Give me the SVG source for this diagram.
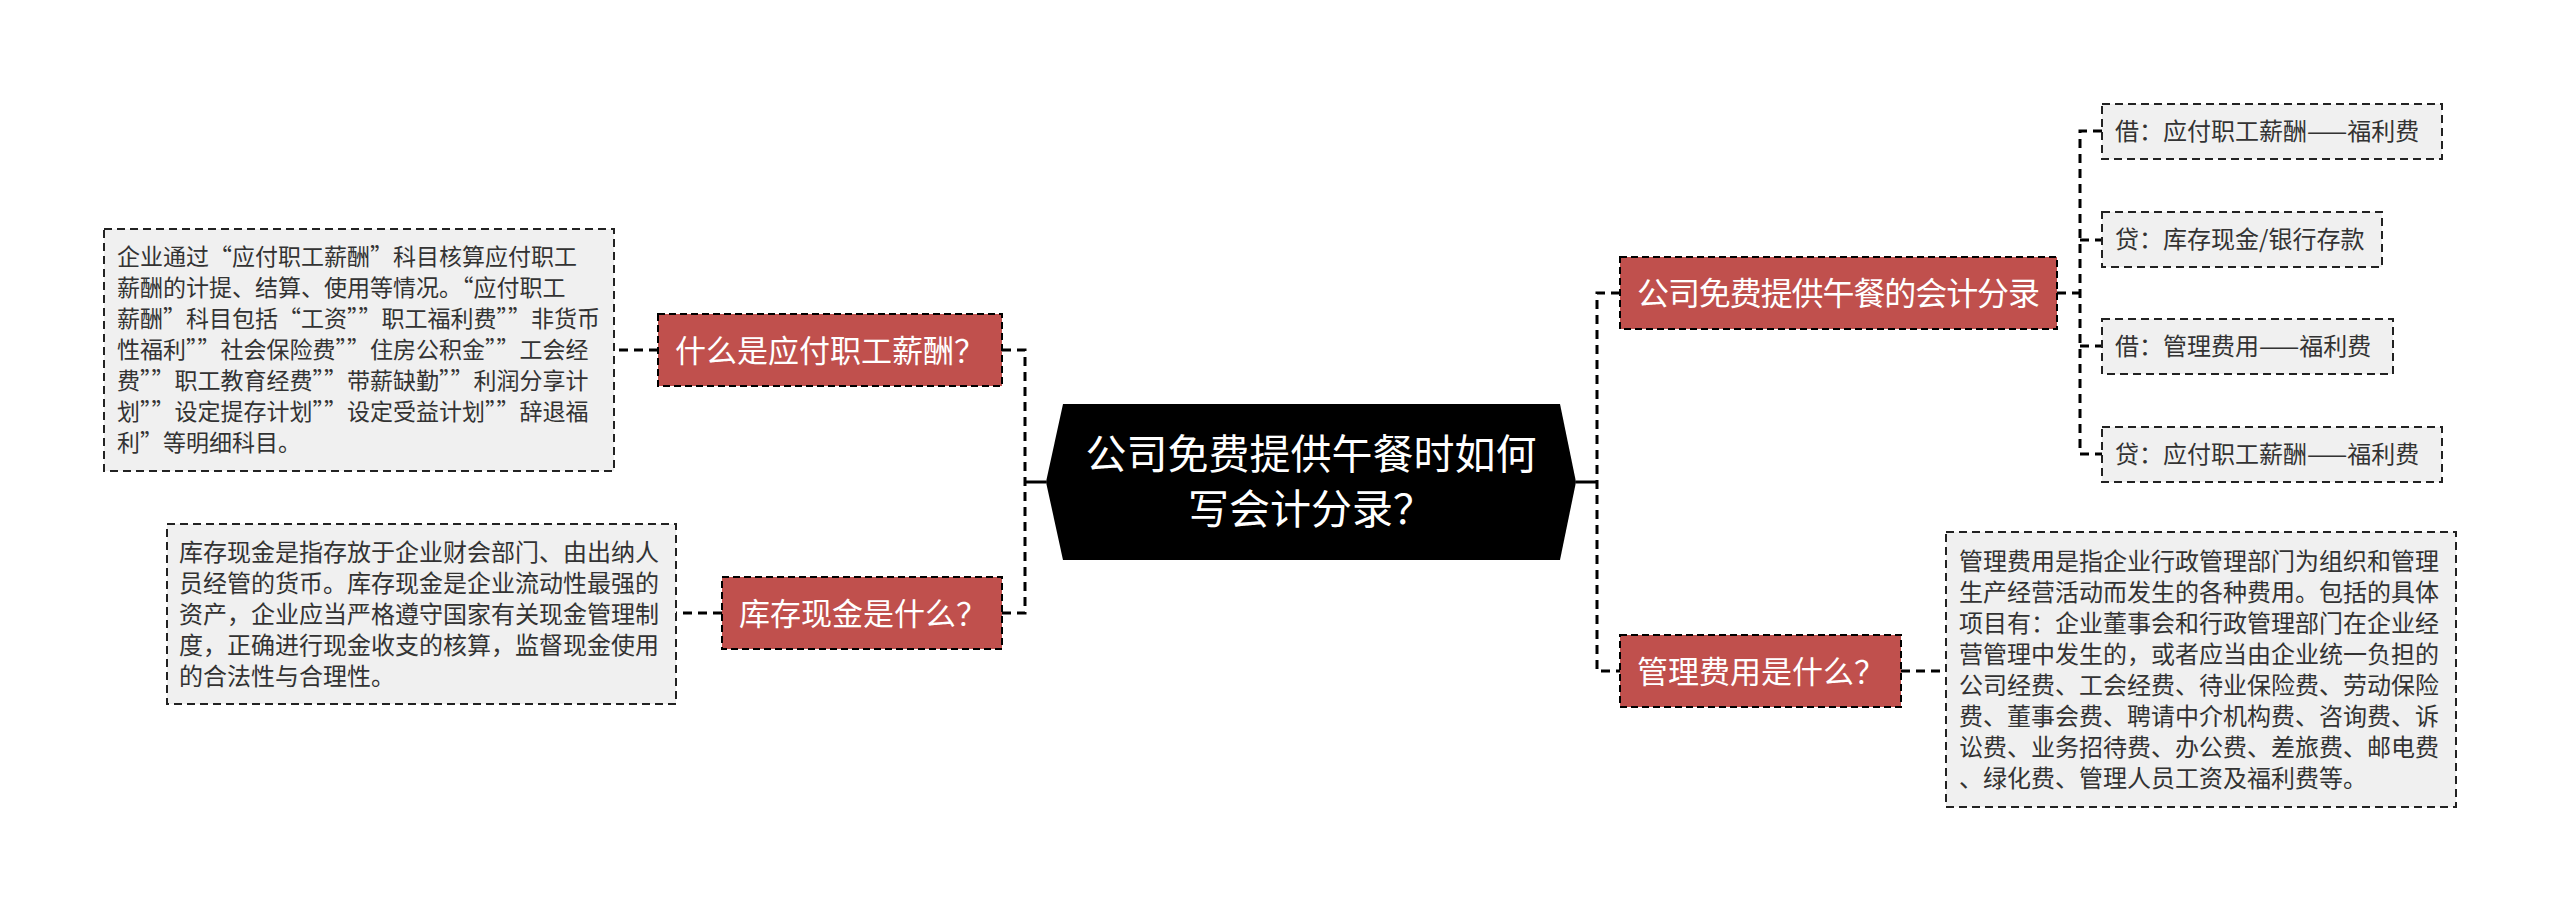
<svg xmlns="http://www.w3.org/2000/svg" width="2560" height="912" viewBox="0 0 2560 912">
<style>
text { font-family: "Noto Sans CJK SC", "Noto Sans", sans-serif; }
.conn { fill: none; stroke: #000; stroke-width: 3; stroke-dasharray: 9 6; }
.solid { fill: none; stroke: #000; stroke-width: 3; }
.red rect { fill: #C0504D; stroke: #000; stroke-width: 2; stroke-dasharray: 7 4; }
.red text { fill: #fff; font-size: 31px; }
.box rect { fill: #F0F0F0; stroke: #222; stroke-width: 2; stroke-dasharray: 8 5; }
.box text { fill: #333; font-size: 24px; }
.box .sm { font-size: 23px; }
.root polygon { fill: #000; }
.root text { fill: #fff; font-size: 41px; text-anchor: middle; }
</style>
<rect x="0" y="0" width="2560" height="912" fill="#fff"/>
<g id="connectors">
  <path class="solid" d="M1046,482 H1025"/>
  <path class="conn" d="M1002,350 H1025 V613 H1002"/>
  <path class="conn" d="M658,350 H614"/>
  <path class="conn" d="M722,613 H676"/>
  <path class="solid" d="M1576,482 H1597"/>
  <path class="conn" d="M1620,293 H1597 V671 H1620"/>
  <path class="conn" d="M2057,293 H2080"/>
  <path class="conn" d="M2102,131 H2080 V454 H2102"/>
  <path class="conn" d="M2080,240 H2102"/>
  <path class="conn" d="M2080,346 H2102"/>
  <path class="conn" d="M1901,671 H1946"/>
</g>
<g id="root" class="root">
  <polygon points="1063,404 1560,404 1576,482 1560,560 1063,560 1046,482"/>
  <text x="1311" y="469">公司免费提供午餐时如何</text>
  <text x="1311" y="524">写会计分录？</text>
</g>
<g id="node-yingfu" class="red">
  <rect x="658" y="314" width="344" height="72"/>
  <text x="675" y="362">什么是应付职工薪酬？</text>
</g>
<g id="node-kucun" class="red">
  <rect x="722" y="577" width="280" height="72"/>
  <text x="739" y="625">库存现金是什么？</text>
</g>
<g id="node-fenlu" class="red">
  <rect x="1620" y="257" width="437" height="72"/>
  <text x="1637" y="305" style="font-size:32px" textLength="403" lengthAdjust="spacing">公司免费提供午餐的会计分录</text>
</g>
<g id="node-guanli" class="red">
  <rect x="1620" y="635" width="281" height="72"/>
  <text x="1637" y="683">管理费用是什么？</text>
</g>
<g id="detail-yingfu" class="box">
  <rect x="104" y="229" width="510" height="242"/>
  <text class="sm" x="117" y="265">企业通过“应付职工薪酬”科目核算应付职工</text>
  <text class="sm" x="117" y="296">薪酬的计提、结算、使用等情况。“应付职工</text>
  <text class="sm" x="117" y="327">薪酬”科目包括“工资””职工福利费””非货币</text>
  <text class="sm" x="117" y="358">性福利””社会保险费””住房公积金””工会经</text>
  <text class="sm" x="117" y="389">费””职工教育经费””带薪缺勤””利润分享计</text>
  <text class="sm" x="117" y="420">划””设定提存计划””设定受益计划””辞退福</text>
  <text class="sm" x="117" y="451">利”等明细科目。</text>
</g>
<g id="detail-kucun" class="box">
  <rect x="167" y="524" width="509" height="180"/>
  <text x="179" y="561">库存现金是指存放于企业财会部门、由出纳人</text>
  <text x="179" y="592">员经管的货币。库存现金是企业流动性最强的</text>
  <text x="179" y="623">资产，企业应当严格遵守国家有关现金管理制</text>
  <text x="179" y="654">度，正确进行现金收支的核算，监督现金使用</text>
  <text x="179" y="685">的合法性与合理性。</text>
</g>
<g id="entry-1" class="box">
  <rect x="2102" y="104" width="340" height="55"/>
  <text x="2115" y="140">借：应付职工薪酬——福利费</text>
</g>
<g id="entry-2" class="box">
  <rect x="2102" y="212" width="280" height="55"/>
  <text x="2115" y="248">贷：库存现金/银行存款</text>
</g>
<g id="entry-3" class="box">
  <rect x="2102" y="319" width="291" height="55"/>
  <text x="2115" y="355">借：管理费用——福利费</text>
</g>
<g id="entry-4" class="box">
  <rect x="2102" y="427" width="340" height="55"/>
  <text x="2115" y="463">贷：应付职工薪酬——福利费</text>
</g>
<g id="detail-guanli" class="box">
  <rect x="1946" y="532" width="510" height="275"/>
  <text x="1959" y="570">管理费用是指企业行政管理部门为组织和管理</text>
  <text x="1959" y="601">生产经营活动而发生的各种费用。包括的具体</text>
  <text x="1959" y="632">项目有：企业董事会和行政管理部门在企业经</text>
  <text x="1959" y="663">营管理中发生的，或者应当由企业统一负担的</text>
  <text x="1959" y="694">公司经费、工会经费、待业保险费、劳动保险</text>
  <text x="1959" y="725">费、董事会费、聘请中介机构费、咨询费、诉</text>
  <text x="1959" y="756">讼费、业务招待费、办公费、差旅费、邮电费</text>
  <text x="1959" y="787">、绿化费、管理人员工资及福利费等。</text>
</g>
</svg>
